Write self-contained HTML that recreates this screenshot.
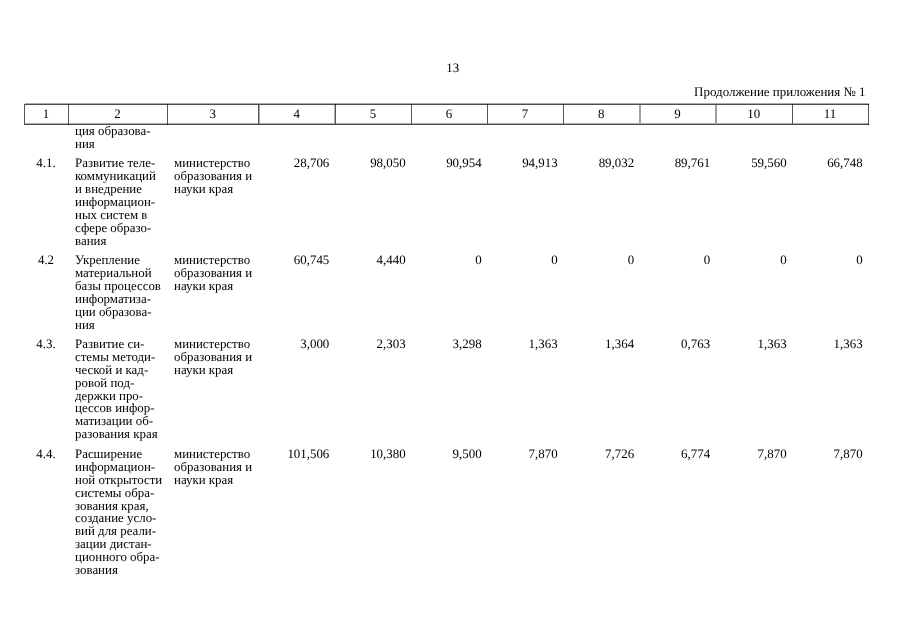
<!DOCTYPE html>
<html><head><meta charset="utf-8">
<style>
html,body{margin:0;padding:0;background:#fff;}
body{width:905px;height:640px;position:relative;overflow:hidden;}
.t{position:absolute;font-family:"Liberation Serif",serif;font-size:12.9px;line-height:12.95px;color:#000;white-space:nowrap;text-rendering:geometricPrecision;}
.r{text-align:right;}
.c{text-align:center;}
.ln{position:absolute;}
.tx{position:absolute;left:0;top:0;width:905px;height:640px;will-change:transform;}
</style></head><body>
<div class="ln" style="left:25px;top:103px;width:844px;height:1px;background:#aaaaaa"></div>
<div class="ln" style="left:24px;top:104px;width:845px;height:1px;background:#4d4d4d"></div>
<div class="ln" style="left:24px;top:123px;width:845px;height:1px;background:#aaaaaa"></div>
<div class="ln" style="left:24px;top:124px;width:845px;height:1px;background:#4d4d4d"></div>
<div class="ln" style="left:24px;top:105px;width:1px;height:19px;background:#555555"></div>
<div class="ln" style="left:68px;top:105px;width:1px;height:19px;background:#555555"></div>
<div class="ln" style="left:167px;top:105px;width:1px;height:19px;background:#555555"></div>
<div class="ln" style="left:258px;top:105px;width:1px;height:19px;background:#555555"></div>
<div class="ln" style="left:335px;top:105px;width:1px;height:19px;background:#555555"></div>
<div class="ln" style="left:411px;top:105px;width:1px;height:19px;background:#555555"></div>
<div class="ln" style="left:487px;top:105px;width:1px;height:19px;background:#555555"></div>
<div class="ln" style="left:563px;top:105px;width:1px;height:19px;background:#555555"></div>
<div class="ln" style="left:792px;top:105px;width:1px;height:19px;background:#555555"></div>
<div class="ln" style="left:868px;top:105px;width:1px;height:19px;background:#555555"></div>
<div class="ln" style="left:259px;top:105px;width:1px;height:18px;background:#aaaaaa"></div>
<div class="ln" style="left:68px;top:104px;width:1px;height:1px;background:#000"></div>
<div class="ln" style="left:167px;top:104px;width:1px;height:1px;background:#000"></div>
<div class="ln" style="left:335px;top:104px;width:1px;height:1px;background:#000"></div>
<div class="ln" style="left:411px;top:104px;width:1px;height:1px;background:#000"></div>
<div class="ln" style="left:487px;top:104px;width:1px;height:1px;background:#000"></div>
<div class="ln" style="left:563px;top:104px;width:1px;height:1px;background:#000"></div>
<div class="ln" style="left:792px;top:104px;width:1px;height:1px;background:#000"></div>
<div class="ln" style="left:868px;top:104px;width:1px;height:1px;background:#000"></div>
<div class="ln" style="left:68px;top:124px;width:1px;height:1px;background:#000"></div>
<div class="ln" style="left:167px;top:124px;width:1px;height:1px;background:#000"></div>
<div class="ln" style="left:868px;top:124px;width:1px;height:1px;background:#000"></div>
<div class="ln" style="left:334px;top:105px;width:1px;height:18px;background:#b0b0b0"></div>
<div class="ln" style="left:639px;top:105px;width:1px;height:18px;background:#a0a0a0"></div>
<div class="ln" style="left:640px;top:105px;width:1px;height:18px;background:#a0a0a0"></div>
<div class="ln" style="left:715px;top:105px;width:1px;height:18px;background:#a0a0a0"></div>
<div class="ln" style="left:716px;top:105px;width:1px;height:18px;background:#a0a0a0"></div>
<div class="tx">
<div class="t c" style="left:352.80px;width:200px;top:62.00px">13</div>
<div class="t r" style="right:39.40px;top:86.00px;font-size:12.97px">Продолжение приложения № 1</div>
<div class="t c" style="left:-54.00px;width:200px;top:108.00px">1</div>
<div class="t c" style="left:17.50px;width:200px;top:108.00px">2</div>
<div class="t c" style="left:112.75px;width:200px;top:108.00px">3</div>
<div class="t c" style="left:196.75px;width:200px;top:108.00px">4</div>
<div class="t c" style="left:273.00px;width:200px;top:108.00px">5</div>
<div class="t c" style="left:349.00px;width:200px;top:108.00px">6</div>
<div class="t c" style="left:425.00px;width:200px;top:108.00px">7</div>
<div class="t c" style="left:501.25px;width:200px;top:108.00px">8</div>
<div class="t c" style="left:577.50px;width:200px;top:108.00px">9</div>
<div class="t c" style="left:653.75px;width:200px;top:108.00px">10</div>
<div class="t c" style="left:730.00px;width:200px;top:108.00px">11</div>
<div class="t" style="left:75.00px;top:125.00px">ция образова-</div>
<div class="t" style="left:75.00px;top:138.00px">ния</div>
<div class="t c" style="left:-54.00px;width:200px;top:157.00px">4.1.</div>
<div class="t" style="left:75.00px;top:157.00px">Развитие теле-</div>
<div class="t" style="left:75.00px;top:170.00px">коммуникаций</div>
<div class="t" style="left:75.00px;top:183.00px">и внедрение</div>
<div class="t" style="left:75.00px;top:196.00px">информацион-</div>
<div class="t" style="left:75.00px;top:209.00px">ных систем в</div>
<div class="t" style="left:75.00px;top:222.00px">сфере образо-</div>
<div class="t" style="left:75.00px;top:235.00px">вания</div>
<div class="t" style="left:174.00px;top:157.00px">министерство</div>
<div class="t" style="left:174.00px;top:170.00px">образования и</div>
<div class="t" style="left:174.00px;top:183.00px">науки края</div>
<div class="t r" style="right:575.70px;top:157.00px;">28,706</div>
<div class="t r" style="right:499.40px;top:157.00px;">98,050</div>
<div class="t r" style="right:423.40px;top:157.00px;">90,954</div>
<div class="t r" style="right:347.40px;top:157.00px;">94,913</div>
<div class="t r" style="right:270.90px;top:157.00px;">89,032</div>
<div class="t r" style="right:194.90px;top:157.00px;">89,761</div>
<div class="t r" style="right:118.40px;top:157.00px;">59,560</div>
<div class="t r" style="right:42.40px;top:157.00px;">66,748</div>
<div class="t c" style="left:-54.00px;width:200px;top:254.00px">4.2</div>
<div class="t" style="left:75.00px;top:254.00px">Укрепление</div>
<div class="t" style="left:75.00px;top:267.00px">материальной</div>
<div class="t" style="left:75.00px;top:280.00px">базы процессов</div>
<div class="t" style="left:75.00px;top:293.00px">информатиза-</div>
<div class="t" style="left:75.00px;top:306.00px">ции образова-</div>
<div class="t" style="left:75.00px;top:319.00px">ния</div>
<div class="t" style="left:174.00px;top:254.00px">министерство</div>
<div class="t" style="left:174.00px;top:267.00px">образования и</div>
<div class="t" style="left:174.00px;top:280.00px">науки края</div>
<div class="t r" style="right:575.70px;top:254.00px;">60,745</div>
<div class="t r" style="right:499.40px;top:254.00px;">4,440</div>
<div class="t r" style="right:423.40px;top:254.00px;">0</div>
<div class="t r" style="right:347.40px;top:254.00px;">0</div>
<div class="t r" style="right:270.90px;top:254.00px;">0</div>
<div class="t r" style="right:194.90px;top:254.00px;">0</div>
<div class="t r" style="right:118.40px;top:254.00px;">0</div>
<div class="t r" style="right:42.40px;top:254.00px;">0</div>
<div class="t c" style="left:-54.00px;width:200px;top:338.00px">4.3.</div>
<div class="t" style="left:75.00px;top:338.00px">Развитие си-</div>
<div class="t" style="left:75.00px;top:351.00px">стемы методи-</div>
<div class="t" style="left:75.00px;top:364.00px">ческой и кад-</div>
<div class="t" style="left:75.00px;top:377.00px">ровой под-</div>
<div class="t" style="left:75.00px;top:390.00px">держки про-</div>
<div class="t" style="left:75.00px;top:402.00px">цессов инфор-</div>
<div class="t" style="left:75.00px;top:415.00px">матизации об-</div>
<div class="t" style="left:75.00px;top:428.00px">разования края</div>
<div class="t" style="left:174.00px;top:338.00px">министерство</div>
<div class="t" style="left:174.00px;top:351.00px">образования и</div>
<div class="t" style="left:174.00px;top:364.00px">науки края</div>
<div class="t r" style="right:575.70px;top:338.00px;">3,000</div>
<div class="t r" style="right:499.40px;top:338.00px;">2,303</div>
<div class="t r" style="right:423.40px;top:338.00px;">3,298</div>
<div class="t r" style="right:347.40px;top:338.00px;">1,363</div>
<div class="t r" style="right:270.90px;top:338.00px;">1,364</div>
<div class="t r" style="right:194.90px;top:338.00px;">0,763</div>
<div class="t r" style="right:118.40px;top:338.00px;">1,363</div>
<div class="t r" style="right:42.40px;top:338.00px;">1,363</div>
<div class="t c" style="left:-54.00px;width:200px;top:448.00px">4.4.</div>
<div class="t" style="left:75.00px;top:448.00px">Расширение</div>
<div class="t" style="left:75.00px;top:461.00px">информацион-</div>
<div class="t" style="left:75.00px;top:474.00px">ной открытости</div>
<div class="t" style="left:75.00px;top:487.00px">системы обра-</div>
<div class="t" style="left:75.00px;top:500.00px">зования края,</div>
<div class="t" style="left:75.00px;top:512.00px">создание усло-</div>
<div class="t" style="left:75.00px;top:525.00px">вий для реали-</div>
<div class="t" style="left:75.00px;top:538.00px">зации дистан-</div>
<div class="t" style="left:75.00px;top:551.00px">ционного обра-</div>
<div class="t" style="left:75.00px;top:564.00px">зования</div>
<div class="t" style="left:174.00px;top:448.00px">министерство</div>
<div class="t" style="left:174.00px;top:461.00px">образования и</div>
<div class="t" style="left:174.00px;top:474.00px">науки края</div>
<div class="t r" style="right:575.70px;top:448.00px;">101,506</div>
<div class="t r" style="right:499.40px;top:448.00px;">10,380</div>
<div class="t r" style="right:423.40px;top:448.00px;">9,500</div>
<div class="t r" style="right:347.40px;top:448.00px;">7,870</div>
<div class="t r" style="right:270.90px;top:448.00px;">7,726</div>
<div class="t r" style="right:194.90px;top:448.00px;">6,774</div>
<div class="t r" style="right:118.40px;top:448.00px;">7,870</div>
<div class="t r" style="right:42.40px;top:448.00px;">7,870</div>
</div>
</body></html>
